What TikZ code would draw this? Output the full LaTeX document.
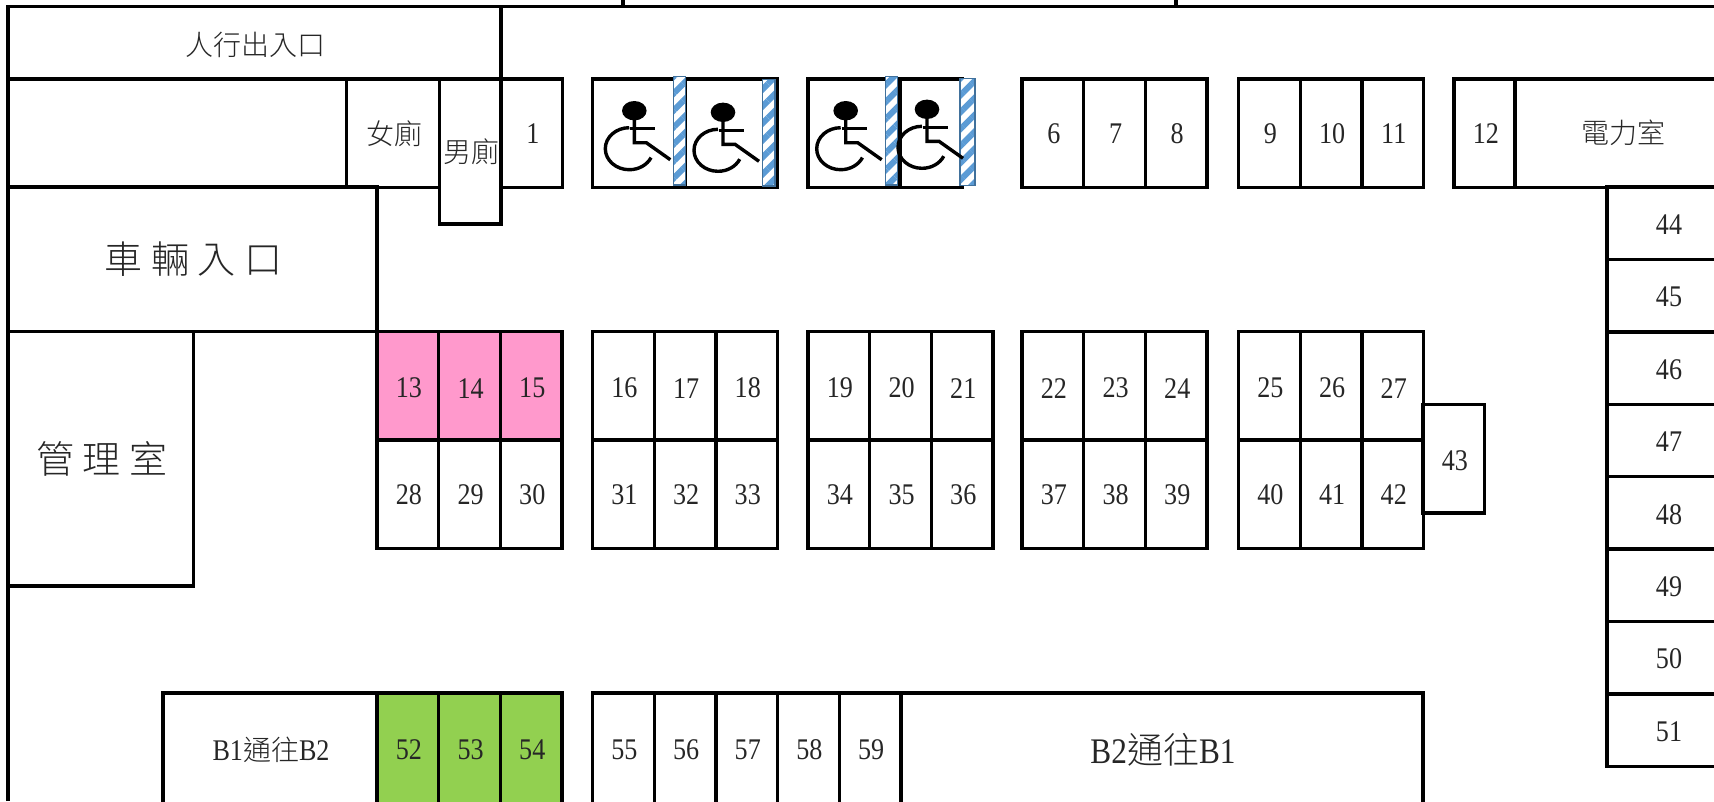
\documentclass[tikz,border=0pt]{standalone}
\usepackage{fontspec}
\usetikzlibrary{positioning,patterns.meta}
\setmainfont[FakeStretch=0.87]{Liberation Serif}
\newfontfamily\cjk[UprightFont={* Light}]{Noto Sans CJK TC}
\definecolor{stripeblue}{HTML}{5B9BD5}
\definecolor{stripeedge}{HTML}{41719C}
\definecolor{lotpink}{HTML}{FF99CC}
\definecolor{lotgreen}{HTML}{92D050}
\tikzset{
  wall/.style={line width=3.4pt},
  room/.style={draw, line width=3.4pt, outer sep=0pt, inner sep=0pt, anchor=north west,
    execute at begin node={\hspace*{2pt}},
    text=black!85, font=\fontsize{28}{28}\selectfont\cjk},
  bigroom/.style={room, font=\fontsize{38}{38}\selectfont\cjk},
  lot/.style={draw, line width=3.4pt, outer sep=0pt, inner sep=0pt, minimum width=61.7pt, minimum height=108.5pt,
    execute at begin node={\hspace*{2pt}},
    text=black!85, font=\fontsize{30}{30}\selectfont},
  midlot/.style={lot, text height=24.7pt},
  side/.style={lot, minimum width=122pt, minimum height=72.4pt, text height=22.7pt},
  stripe/.style={draw=stripeedge, line width=1.5pt, outer sep=0pt, anchor=north west,
    preaction={fill=white},
    pattern={Lines[angle=45,distance=12pt,line width=6pt]}, pattern color=stripeblue},
  wheelchair/.pic={
    \fill (0,0) ellipse[x radius=12.3pt, y radius=9.7pt];
    \draw[wall] (0,9) -- (0,32) -- (12,32) -- (36,49);
    \draw[wall] (-4,18) -- (21,18);
    \draw[wall] (-5,17) arc[start angle=90, end angle=335, x radius=24pt, y radius=21pt];
  }
}
\begin{document}
\begin{tikzpicture}[x=1pt, y=-1pt]
  \useasboundingbox (0,0) rectangle (1714,801);
  \clip (0,0) rectangle (1714,801);

  % outer walls
  \coordinate (topl) at (8,6.5);
  \coordinate (topr) at (1714,6.5);
  \coordinate (botl) at (8,801);
  \coordinate (tickal) at (623,0);
  \coordinate (tickar) at (623,6.5);
  \coordinate (tickbl) at (1176,0);
  \coordinate (tickbr) at (1176,6.5);
  \draw[wall] (botl) -- (topl) -- (topr);
  \draw[wall] (tickal) -- (tickar);
  \draw[wall] (tickbl) -- (tickbr);

  % rooms on the left
  \node[room, minimum width=493pt, minimum height=72.5pt, text height=27pt] (walkway) at (8,6.5) {人行出入口};
  \node[room, minimum width=338.5pt, minimum height=108.5pt] (blank) at (8,79) {};
  \node[room, minimum width=93pt, minimum height=108.5pt] (ladies) at (346.5,79) {女廁};
  \node[bigroom, minimum width=369pt, minimum height=144.5pt] (carway) at (8,187) {車 輛 入 口};
  \node[bigroom, minimum width=185.5pt, minimum height=254.5pt] (office) at (8,331.5) {管 理 室};

  % top row
  \node[lot, anchor=north west] (p1) at (501,79) {1};
  \node[room, minimum width=61.5pt, minimum height=145pt, fill=white] (gents) at (439.5,79) {男廁};

  \node[lot, anchor=north west, minimum width=92.5pt] (d2) at (592.5,79) {};
  \node[lot, anchor=north west, minimum width=92.5pt] (d3) at (685,79) {};
  \node[lot, anchor=north west, minimum width=92pt] (d4) at (808,79) {};
  \node[lot, anchor=north west, minimum width=62pt] (d5) at (900,79) {};
  \node[stripe, minimum width=12pt, minimum height=108.3pt] (s2) at (673.7,76.7) {};
  \node[stripe, minimum width=12.7pt, minimum height=106.7pt] (s3) at (762.3,79.3) {};
  \node[stripe, minimum width=12.4pt, minimum height=108.3pt] (s4) at (885.3,76.7) {};
  \node[stripe, minimum width=15pt, minimum height=107pt] (s5) at (960,78.7) {};
  \pic at (634.3,110.7) {wheelchair};
  \pic at (723,112.3) {wheelchair};
  \pic at (845.7,110.7) {wheelchair};
  \pic at (927,109.3) {wheelchair};

  \node[lot, anchor=north west] (p6) at (1022,79) {6};
  \node[lot, right=0pt of p6] (p7) {7};
  \node[lot, right=0pt of p7] (p8) {8};
  \node[lot, anchor=north west] (p9) at (1238.5,79) {9};
  \node[lot, right=0pt of p9] (p10) {10};
  \node[lot, right=0pt of p10] (p11) {11};
  \node[lot, anchor=north west] (p12) at (1454,79) {12};
  \node[room, minimum width=214pt, minimum height=108.5pt] (power) at (1515,79) {電力室};

  % middle block
  \node[midlot, anchor=north west, fill=lotpink] (p13) at (377,331.5) {13};
  \node[midlot, right=0pt of p13, fill=lotpink] (p14) {14};
  \node[midlot, right=0pt of p14, fill=lotpink] (p15) {15};
  \node[midlot, anchor=north west] (p16) at (592.5,331.5) {16};
  \node[midlot, right=0pt of p16] (p17) {17};
  \node[midlot, right=0pt of p17] (p18) {18};
  \node[midlot, anchor=north west] (p19) at (808,331.5) {19};
  \node[midlot, right=0pt of p19] (p20) {20};
  \node[midlot, right=0pt of p20] (p21) {21};
  \node[midlot, anchor=north west] (p22) at (1022,331.5) {22};
  \node[midlot, right=0pt of p22] (p23) {23};
  \node[midlot, right=0pt of p23] (p24) {24};
  \node[midlot, anchor=north west] (p25) at (1238.5,331.5) {25};
  \node[midlot, right=0pt of p25] (p26) {26};
  \node[midlot, right=0pt of p26] (p27) {27};
  \node[lot, below=0pt of p13] (p28) {28};
  \node[lot, below=0pt of p14] (p29) {29};
  \node[lot, below=0pt of p15] (p30) {30};
  \node[lot, below=0pt of p16] (p31) {31};
  \node[lot, below=0pt of p17] (p32) {32};
  \node[lot, below=0pt of p18] (p33) {33};
  \node[lot, below=0pt of p19] (p34) {34};
  \node[lot, below=0pt of p20] (p35) {35};
  \node[lot, below=0pt of p21] (p36) {36};
  \node[lot, below=0pt of p22] (p37) {37};
  \node[lot, below=0pt of p23] (p38) {38};
  \node[lot, below=0pt of p24] (p39) {39};
  \node[lot, below=0pt of p25] (p40) {40};
  \node[lot, below=0pt of p26] (p41) {41};
  \node[lot, below=0pt of p27] (p42) {42};
  \node[midlot, anchor=north west] (p43) at (1423,404.5) {43};
  \draw[wall] (office.north east) -- (p13.north west);

  % right column
  \node[side, anchor=north west] (p44) at (1607,187) {44};
  \node[side, below=0pt of p44] (p45) {45};
  \node[side, below=0pt of p45] (p46) {46};
  \node[side, below=0pt of p46] (p47) {47};
  \node[side, below=0pt of p47] (p48) {48};
  \node[side, below=0pt of p48] (p49) {49};
  \node[side, below=0pt of p49] (p50) {50};
  \node[side, below=0pt of p50] (p51) {51};

  % bottom row
  \node[room, minimum width=214pt, minimum height=114pt] (down) at (163,693) {{\fontsize{30}{30}\selectfont\normalfont B1}通往{\fontsize{30}{30}\selectfont\normalfont B2}};
  \node[lot, anchor=north west, minimum height=114pt, fill=lotgreen] (p52) at (377,693) {52};
  \node[lot, right=0pt of p52, minimum height=114pt, fill=lotgreen] (p53) {53};
  \node[lot, right=0pt of p53, minimum height=114pt, fill=lotgreen] (p54) {54};
  \node[lot, anchor=north west, minimum height=114pt] (p55) at (592.5,693) {55};
  \node[lot, right=0pt of p55, minimum height=114pt] (p56) {56};
  \node[lot, right=0pt of p56, minimum height=114pt] (p57) {57};
  \node[lot, right=0pt of p57, minimum height=114pt] (p58) {58};
  \node[lot, right=0pt of p58, minimum height=114pt] (p59) {59};
  \node[bigroom, minimum width=522pt, minimum height=114pt, font=\fontsize{36}{36}\selectfont\cjk] (up) at (901,693) {{\fontsize{36}{36}\selectfont\normalfont B2}通往{\fontsize{36}{36}\selectfont\normalfont B1}};
\end{tikzpicture}
\end{document}
